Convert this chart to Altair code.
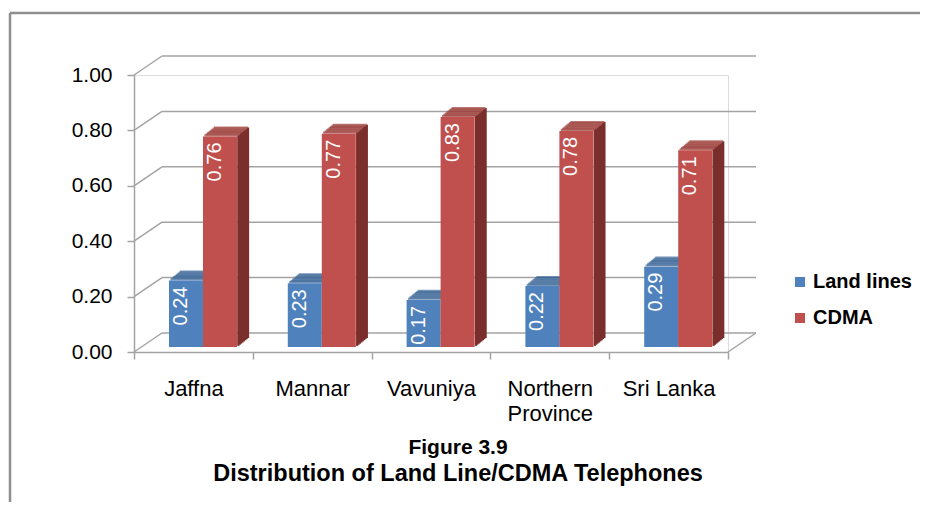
import altair as alt
import pandas as pd

# ---- data ----
categories = ["Jaffna", "Mannar", "Vavuniya", "Northern Province", "Sri Lanka"]
land_lines = [0.24, 0.23, 0.17, 0.22, 0.29]
cdma = [0.76, 0.77, 0.83, 0.78, 0.71]
series_names = ["Land lines", "CDMA"]
y_ticks = [0.0, 0.2, 0.4, 0.6, 0.8, 1.0]
title_text = "Figure 3.9"
subtitle_text = "Distribution of Land Line/CDMA Telephones"

front_colors = ["#4f81bd", "#c0504d"]
top_colors = ["#3d6898", "#9d3e3b"]
side_colors = ["#385d8a", "#7b2f2d"]
GRID = "#a3a3a3"

rows = []
for i, c in enumerate(categories):
    rows.append({"category": c, "series": series_names[0], "value": land_lines[i]})
    rows.append({"category": c, "series": series_names[1], "value": cdma[i]})
df = pd.DataFrame(rows)
grid_df = pd.DataFrame({"v": y_ticks})
one_df = pd.DataFrame({"k": [0]})

# ---- geometry (pixels) ----
W, H = 594, 277
WALL_DX, WALL_DY = 28, 19
BAR_W = 34
BAR_LIFT = 5
DEPTH_DX, DEPTH_DY = 11, 9
N = 8
centers = {series_names[0]: -7.4, series_names[1]: 26.6}

x_axis = alt.Axis(title=None, labelAngle=0, labelFont="Liberation Sans", labelFontSize=22,
                  labelColor="black", labelPadding=19, tickSize=7, tickBand="extent",
                  domainColor=GRID, domainWidth=1.5, tickColor=GRID, tickWidth=1.5,
                  labelLineHeight=25,
                  labelExpr="datum.label == 'Northern Province' ? ['Northern', 'Province'] : datum.label")
y_axis = alt.Axis(title=None, values=y_ticks, format=".2f", labelFont="Liberation Sans",
                  labelFontSize=21, labelColor="black", labelPadding=15, tickSize=7,
                  domainColor=GRID, domainWidth=1.5, tickColor=GRID, tickWidth=1.5, grid=False)
x_scale = alt.Scale(domain=categories, paddingInner=0, paddingOuter=0)
y_scale = alt.Scale(domain=[0, 1], nice=False, zero=True)

x_enc = alt.X("category:N", sort=categories, scale=x_scale, axis=x_axis)
y_enc = alt.Y("value:Q", scale=y_scale, axis=y_axis)

color_enc = alt.Color(
    "series:N",
    scale=alt.Scale(domain=series_names, range=front_colors),
    legend=alt.Legend(title=None, orient="none", legendX=656, legendY=197,
                      symbolType="square", symbolSize=100, symbolStrokeWidth=0,
                      labelFont="Liberation Sans", labelFontSize=20, labelFontWeight="bold",
                      labelColor="black", rowPadding=16, labelOffset=3, padding=0),
)

layers = []

# chart frame (left + top edges)
layers.append(alt.Chart(one_df).mark_rule(color="#8e8e8e", strokeWidth=2.5).encode(
    x=alt.value(-124), x2=alt.value(800), y=alt.value(-62)))
layers.append(alt.Chart(one_df).mark_rule(color="#8e8e8e", strokeWidth=2.5).encode(
    x=alt.value(-124), y=alt.value(-62), y2=alt.value(440)))

# back wall grid lines
layers.append(alt.Chart(grid_df).mark_rule(color=GRID, strokeWidth=1.5, yOffset=-WALL_DY).encode(
    x=alt.value(WALL_DX), x2=alt.value(W + WALL_DX),
    y=alt.Y("v:Q", scale=y_scale, axis=y_axis)))
# side diagonals from front axis to back wall
layers.append(alt.Chart(grid_df).mark_rule(color=GRID, strokeWidth=1.5, y2Offset=-WALL_DY).encode(
    x=alt.value(0), x2=alt.value(WALL_DX),
    y=alt.Y("v:Q", scale=y_scale, axis=y_axis), y2="v:Q"))
# right floor edge
layers.append(alt.Chart(one_df).mark_rule(color=GRID, strokeWidth=1.5, y2Offset=-WALL_DY).encode(
    x=alt.value(W), x2=alt.value(W + WALL_DX),
    y=alt.YDatum(0, scale=y_scale, axis=y_axis), y2=alt.Y2Datum(0)))

# bar depth: side faces then top faces
for k in range(1, N + 1):
    fx = DEPTH_DX * k / N
    fy = DEPTH_DY * k / N
    for s, cs in zip(series_names, side_colors):
        layers.append(alt.Chart(df).transform_filter(alt.datum.series == s).mark_rule(
            color=cs, strokeWidth=DEPTH_DX / N + 0.9,
            xOffset=centers[s] + BAR_W / 2 + fx,
            yOffset=-BAR_LIFT - fy, y2Offset=-BAR_LIFT - fy,
        ).encode(x=x_enc, y=y_enc, y2=alt.Y2Datum(0)))
for k in range(1, N + 1):
    fx = DEPTH_DX * k / N
    fy = DEPTH_DY * k / N
    for s, ct in zip(series_names, top_colors):
        layers.append(alt.Chart(df).transform_filter(alt.datum.series == s).mark_tick(
            orient="horizontal", size=BAR_W, thickness=DEPTH_DY / N + 1, color=ct,
            xOffset=centers[s] + fx, yOffset=-BAR_LIFT - fy,
        ).encode(x=x_enc, y=y_enc))

# front faces
for s in series_names:
    layers.append(alt.Chart(df).transform_filter(alt.datum.series == s).mark_bar(
        width=BAR_W, xOffset=centers[s], yOffset=-BAR_LIFT, y2Offset=-BAR_LIFT,
    ).encode(x=x_enc, y=y_enc, y2=alt.Y2Datum(0), color=color_enc))

# value labels
for s in series_names:
    layers.append(alt.Chart(df).transform_filter(alt.datum.series == s).mark_text(
        angle=270, align="right", baseline="middle", dx=-6, dy=-5, color="white",
        font="Liberation Sans", fontSize=20, xOffset=centers[s], yOffset=-BAR_LIFT,
    ).encode(x=x_enc, y=y_enc, text=alt.Text("value:Q", format=".2f")))

chart = alt.layer(*layers).properties(
    width=W, height=H,
    autosize=alt.AutoSizeParams(type="none"),
    padding={"left": 126, "top": 67, "right": 192, "bottom": 150},
    title=alt.TitleParams(text=title_text, subtitle=subtitle_text, orient="bottom",
                          anchor="middle", frame="group",
                          font="Liberation Sans", fontSize=21, fontWeight="bold", color="black",
                          subtitleFont="Liberation Sans", subtitleFontSize=23.5,
                          subtitleFontWeight="bold", subtitleColor="black", subtitlePadding=4,
                          offset=0, dx=27, dy=-79),
).configure_view(stroke=None).configure(background="white")

chart.save("out.html", embed_options={"renderer": "svg", "actions": False})
